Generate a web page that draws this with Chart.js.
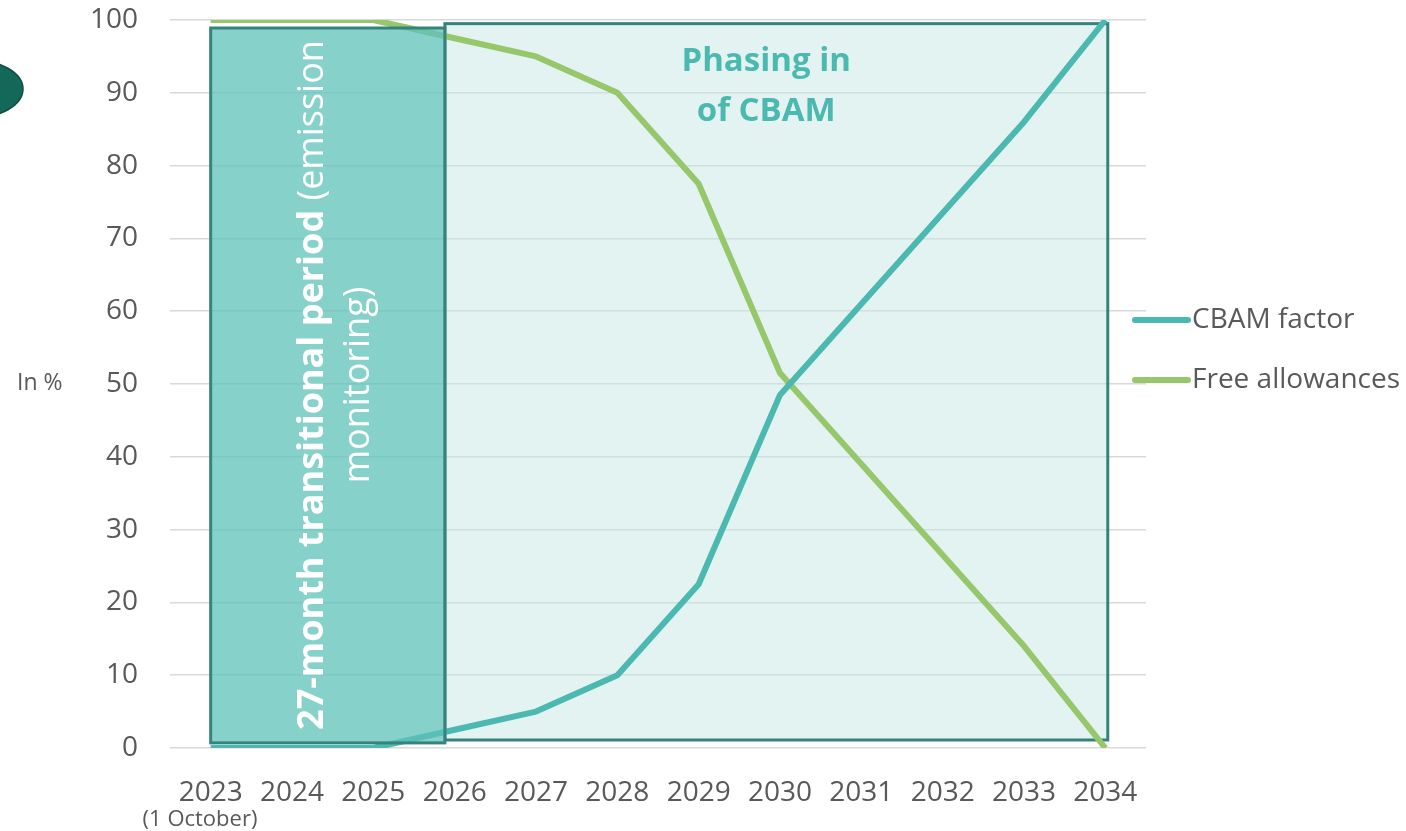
<!DOCTYPE html>
<html>
<head>
<meta charset="utf-8">
<script src="https://cdn.jsdelivr.net/npm/chart.js@4.4.1/dist/chart.umd.min.js"></script>
<style>
  html, body { margin: 0; padding: 0; background: #fff; }
  canvas { display: block; }
</style>
</head>
<body>
<canvas id="cbamChart" width="1406" height="831"></canvas>
<script>
// дані з картинки
const years = ['2023', '2024', '2025', '2026', '2027', '2028', '2029', '2030', '2031', '2032', '2033', '2034'];
const cbamFactor = [0, 0, 0, 2.5, 5, 10, 22.5, 48.5, 61, 73.5, 86, 100];
const freeAllowances = [100, 100, 100, 97.5, 95, 90, 77.5, 51.5, 39, 26.5, 14, 0];
const yTicks = [0, 10, 20, 30, 40, 50, 60, 70, 80, 90, 100];

const tealLine = '#4BB9B0';
const greenLine = '#97C76B';
const boxBorder = '#35837C';
const textGrey = '#595959';
const FONT = "'Open Sans', sans-serif";

// Прямокутники-періоди (в одиницях осей)
const periodBoxes = {
    transition: { x0: 0, x1: 2.88, y0: 0.7, y1: 98.9 },
    phasing: { x0: 2.88, x1: 11.03, y0: 1.1, y1: 99.5 }
};

function boxRect(chart, b) {
    const xs = chart.scales.x, ys = chart.scales.y;
    const left = xs.getPixelForValue(b.x0), right = xs.getPixelForValue(b.x1);
    const top = ys.getPixelForValue(b.y1), bottom = ys.getPixelForValue(b.y0);
    return { left, top, w: right - left, h: bottom - top };
}

const periodsPlugin = {
    id: 'periods',
    beforeDatasetsDraw(chart) {
        const ctx = chart.ctx;
        const r = boxRect(chart, periodBoxes.phasing);
        ctx.save();
        ctx.fillStyle = 'rgba(199,231,229,0.5)';
        ctx.fillRect(r.left, r.top, r.w, r.h);
        ctx.lineWidth = 3;
        ctx.strokeStyle = boxBorder;
        ctx.strokeRect(r.left, r.top, r.w, r.h);

        ctx.fillStyle = tealLine;
        ctx.font = `bold 33px ${FONT}`;
        ctx.textAlign = 'center';
        ctx.textBaseline = 'middle';
        const cx = chart.scales.x.getPixelForValue(6.83);
        ctx.fillText('Phasing in', cx, 62);
        ctx.fillText('of CBAM', cx, 112);
        ctx.restore();
    },
    afterDatasetsDraw(chart) {
        const ctx = chart.ctx;
        const r = boxRect(chart, periodBoxes.transition);
        ctx.save();
        ctx.fillStyle = 'rgba(94,194,184,0.75)';
        ctx.fillRect(r.left, r.top, r.w, r.h);
        ctx.lineWidth = 3;
        ctx.strokeStyle = boxBorder;
        ctx.strokeRect(r.left, r.top, r.w, r.h);

        // повернутий текст
        ctx.translate(335, 385);
        ctx.rotate(-Math.PI / 2);
        ctx.fillStyle = '#fff';
        ctx.textBaseline = 'middle';
        const boldPart = '27-month transitional period';
        const normPart = ' (emission';
        const fs = 36;
        ctx.font = `bold ${fs}px ${FONT}`;
        const wb = ctx.measureText(boldPart).width;
        ctx.font = `${fs}px ${FONT}`;
        const wn = ctx.measureText(normPart).width;
        const start = -(wb + wn) / 2;
        ctx.textAlign = 'left';
        ctx.font = `bold ${fs}px ${FONT}`;
        ctx.fillText(boldPart, start, -22);
        ctx.font = `${fs}px ${FONT}`;
        ctx.fillText(normPart, start + wb, -22);
        ctx.textAlign = 'center';
        ctx.fillText('monitoring)', 0, 24);
        ctx.restore();
    },
    afterDraw(chart) {
        const ctx = chart.ctx;
        ctx.save();
        // зелений овал зліва
        ctx.beginPath();
        ctx.ellipse(-27, 89, 50, 29, 0, 0, Math.PI * 2);
        ctx.fillStyle = '#14685A';
        ctx.fill();
        ctx.lineWidth = 1.5;
        ctx.strokeStyle = '#0E4E43';
        ctx.stroke();

        ctx.fillStyle = textGrey;
        ctx.textBaseline = 'middle';
        ctx.textAlign = 'left';
        ctx.font = `23px ${FONT}`;
        ctx.fillText('In %', 17, 383);
        ctx.font = `22px ${FONT}`;
        ctx.textAlign = 'center';
        ctx.fillText('(1 October)', 200, 820);

        // легенда
        const items = [
            { label: 'CBAM factor', color: chart.data.datasets[0].borderColor, y: 320 },
            { label: 'Free allowances', color: chart.data.datasets[1].borderColor, y: 380 }
        ];
        items.forEach(it => {
            ctx.beginPath();
            ctx.moveTo(1135, it.y);
            ctx.lineTo(1188, it.y);
            ctx.lineWidth = 6;
            ctx.lineCap = 'round';
            ctx.strokeStyle = it.color;
            ctx.stroke();
            ctx.fillStyle = textGrey;
            ctx.textAlign = 'left';
            ctx.font = `28px ${FONT}`;
            ctx.fillText(it.label, 1192, it.y);
        });
        ctx.restore();
    }
};

const ctx = document.getElementById('cbamChart').getContext('2d');
new Chart(ctx, {
    type: 'line',
    data: {
        labels: years,
        datasets: [
            { label: 'CBAM factor', data: cbamFactor, borderColor: tealLine, borderWidth: 6 },
            { label: 'Free allowances', data: freeAllowances, borderColor: greenLine, borderWidth: 6 }
        ]
    },
    options: {
        responsive: false,
        animation: false,
        elements: {
            point: { radius: 0 },
            line: { tension: 0, borderJoinStyle: 'round', borderCapStyle: 'butt' }
        },
        layout: { padding: { top: 20, right: 260, bottom: 0, left: 0 } },
        plugins: {
            legend: { display: false },
            tooltip: { enabled: false }
        },
        scales: {
            x: {
                offset: true,
                grid: { display: false, drawTicks: false },
                border: { display: false },
                ticks: { color: textGrey, font: { family: FONT, size: 28 }, padding: 28, maxRotation: 0 },
                afterFit(scale) {
                    scale.height = 83;
                    scale.paddingLeft = 0;
                    scale.paddingRight = 0;
                }
            },
            y: {
                min: 0,
                max: 100,
                afterBuildTicks(scale) { scale.ticks = yTicks.map(v => ({ value: v })); },
                grid: { color: '#D9D9D9', lineWidth: 1.5, drawTicks: false },
                border: { display: false },
                ticks: { color: textGrey, font: { family: FONT, size: 28 }, padding: 32 },
                afterFit(scale) {
                    scale.width = 170;
                    scale.paddingTop = 0;
                    scale.paddingBottom = 0;
                }
            }
        }
    },
    plugins: [periodsPlugin]
});
</script>
</body>
</html>
